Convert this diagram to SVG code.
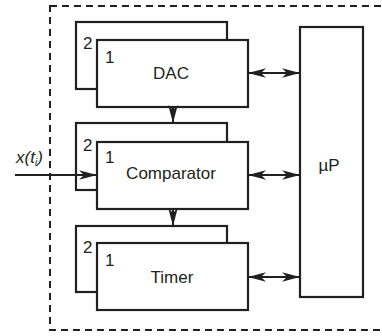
<svg xmlns="http://www.w3.org/2000/svg" width="382" height="336" viewBox="0 0 382 336">
<style>
.box{fill:#fff;stroke:#231f20;stroke-width:2.2}
.t{font-family:"Liberation Sans",Arial,sans-serif;font-size:17px;fill:#231f20}
.c{stroke:#231f20;stroke-width:2;fill:none}
.border{fill:none;stroke:#231f20;stroke-width:2;stroke-dasharray:7 5}
</style>
<defs>
<marker id="ah" markerUnits="userSpaceOnUse" markerWidth="20" markerHeight="12" viewBox="0 -6 18 12" refX="18" refY="0" orient="auto-start-reverse">
<path d="M0,-4.8 L18,0 L0,4.8 L5,0 Z" fill="#231f20"/>
</marker>
</defs>
<rect class="border" x="50" y="6" width="333" height="324"/>
<g id="dac">
<rect class="box" x="76" y="22" width="151" height="67"/>
<rect class="box" x="97" y="40" width="151" height="67"/>
<text class="t" x="83" y="49">2</text>
<text class="t" x="105" y="63">1</text>
<text class="t" x="171" y="79" text-anchor="middle">DAC</text>
</g>
<g id="comparator">
<rect class="box" x="76" y="123" width="151" height="67"/>
<rect class="box" x="97" y="142" width="151" height="67"/>
<text class="t" x="83" y="151">2</text>
<text class="t" x="105" y="163">1</text>
<text class="t" x="171" y="179" text-anchor="middle">Comparator</text>
</g>
<g id="timer">
<rect class="box" x="76" y="226" width="151" height="66"/>
<rect class="box" x="97" y="243" width="151" height="67"/>
<text class="t" x="83" y="253">2</text>
<text class="t" x="105" y="266">1</text>
<text class="t" x="172" y="283" text-anchor="middle">Timer</text>
</g>
<g id="up">
<rect class="box" x="300" y="27" width="63" height="270"/>
<text class="t" x="329" y="171" text-anchor="middle">µP</text>
</g>
<g id="input-label">
<text class="t" x="16" y="163" font-style="italic">x(t<tspan font-size="10" dy="3">i</tspan><tspan dy="-3">)</tspan></text>
</g>
<g id="connectors">
<line class="c" x1="173" y1="107" x2="173" y2="123" marker-end="url(#ah)"/>
<line class="c" x1="173" y1="209" x2="173" y2="226" marker-end="url(#ah)"/>
<line class="c" x1="15" y1="175" x2="97" y2="175" marker-end="url(#ah)"/>
<line class="c" x1="248" y1="73" x2="300" y2="73" marker-start="url(#ah)" marker-end="url(#ah)"/>
<line class="c" x1="248" y1="175" x2="300" y2="175" marker-start="url(#ah)" marker-end="url(#ah)"/>
<line class="c" x1="248" y1="277" x2="300" y2="277" marker-start="url(#ah)" marker-end="url(#ah)"/>
</g>
</svg>
